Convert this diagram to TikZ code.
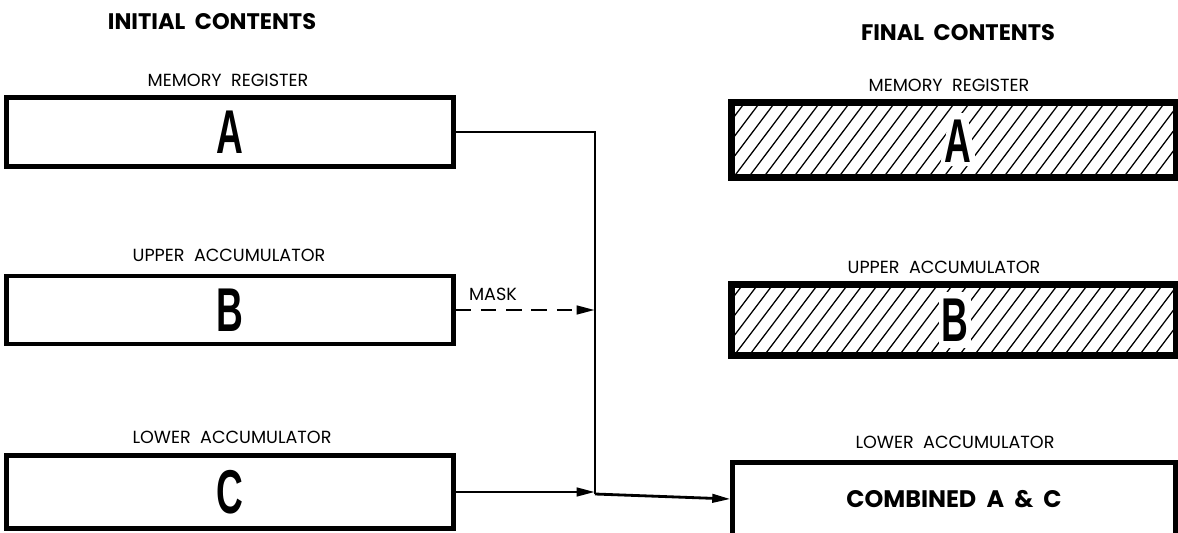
\documentclass[tikz,border=0pt]{standalone}
\usepackage{fontspec}
\setmainfont{Poppins}
\newfontfamily\bigf{Liberation Sans}
\usetikzlibrary{arrows.meta}
\newcommand\bigletter[1]{\scalebox{0.6}[1]{\bigf\bfseries\fontsize{44}{50}\selectfont #1}}
\begin{document}
\begin{tikzpicture}[x=0.025cm,y=-0.025cm,
  regbox/.style={draw, line width=3.5pt, minimum width=11.15cm, minimum height=1.75cm, inner sep=0pt, fill=white},
  finbox/.style={regbox, minimum width=11.05cm},
  lbl/.style={font=\fontsize{12.5}{15}\selectfont, inner sep=0pt},
  ttl/.style={font=\bfseries\fontsize{16}{19}\selectfont, inner sep=0pt},
  conn/.style={line width=2pt},
  tip/.style={-{Triangle[length=13pt,width=6pt]}},
  hatch/.style={line width=0.9pt},
  halo/.style={fill=white, draw=none}]
\useasboundingbox (0,0) rectangle (1178,533);

% titles
\node[ttl] (t1) at (212,22) {INITIAL\ \ CONTENTS};
\node[ttl] (t2) at (958,33) {FINAL\ \ CONTENTS};

% left labels and boxes
\node[lbl] (lA) at (228,80) {MEMORY\ \ REGISTER};
\node[regbox, minimum height=1.72cm] (A) at (230,132) {\bigletter{A}};
\node[lbl] (lB) at (229,255) {UPPER\ \ ACCUMULATOR};
\node[regbox, minimum height=1.7cm] (B) at (230,310) {\bigletter{B}};
\node[lbl] (lC) at (232,437) {LOWER\ \ ACCUMULATOR};
\node[regbox, minimum height=1.82cm] (C) at (230,492) {\bigletter{C}};

% right labels and boxes
\node[lbl] (rA) at (949,85) {MEMORY\ \ REGISTER};
\node[finbox, minimum height=1.82cm] (Af) at (954,140) {};
\node[lbl] (rB) at (944,267) {UPPER\ \ ACCUMULATOR};
\node[finbox, minimum height=1.72cm] (Bf) at (954,320) {};
\node[lbl] (rC) at (955,442) {LOWER\ \ ACCUMULATOR};
\node[finbox, minimum height=1.82cm, font=\bfseries\fontsize{17}{20}\selectfont] (Cf) at (954,499) {COMBINED\ \ A\ \ \&\ \ C};

% hatching
\begin{scope}
  \clip (Af.south west) rectangle (Af.north east);
  \foreach \i in {0,...,32} \draw[hatch] (673+\i*15,178) -- ++(58,-77);
\end{scope}
\begin{scope}
  \clip (Bf.south west) rectangle (Bf.north east);
  \foreach \i in {0,...,32} \draw[hatch] (673+\i*15,357) -- ++(56,-74);
\end{scope}
% white ground round the letters in the hatched boxes
\fill[halo] (950,113) -- (967,113) -- (977,166) -- (940,166) -- cycle;
\fill[halo] (939,292) rectangle (971,348);
\node (LA) at (958,141) {\bigletter{A}};
\node (LB) at (955,320) {\bigletter{B}};
\draw[line width=3.5pt] (Af.south west) rectangle (Af.north east);
\draw[line width=3.5pt] (Bf.south west) rectangle (Bf.north east);

% connectors
\coordinate (J) at (595,494);
\draw[conn] (A.east) -| (J);
\draw[conn, tip, dashed, dash pattern=on 11pt off 7pt] (B.east) -- (B.east -| J);
\node[lbl] (mask) at (493,294) {MASK};
\draw[conn, tip] (C.east) -- (C.east -| J);
\draw[conn, tip] (J) -- (Cf.west);
\end{tikzpicture}
\end{document}
